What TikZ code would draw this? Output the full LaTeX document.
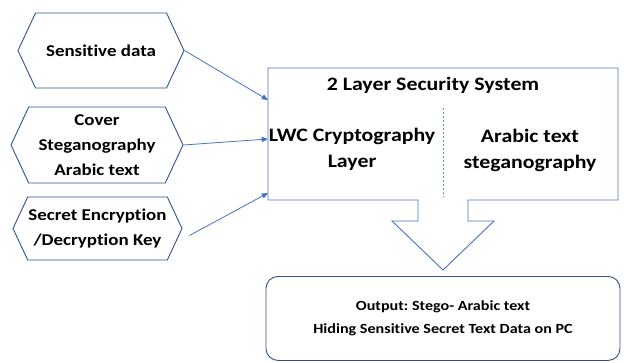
\documentclass[tikz,border=0pt]{standalone}
\usepackage{fontspec}
\setmainfont{Carlito}[Ligatures=NoCommon, FakeStretch=1.15]
\frenchspacing
\usetikzlibrary{shapes.symbols,arrows.meta,positioning}

\definecolor{edgeblue}{HTML}{2F528F}
\definecolor{lineblue}{HTML}{4472C4}
\definecolor{dashblue}{HTML}{5B9BD5}

\begin{document}
\begin{tikzpicture}[
  x=1pt, y=1pt,
  hexin/.style={signal, signal to=west and east, signal pointer angle=130, draw=edgeblue, line width=0.9pt, align=center, font=\bfseries\fontsize{16.5}{25}\selectfont, inner sep=0pt},
  sysbox/.style={minimum width=350pt, minimum height=132pt, inner sep=0pt, outer sep=0pt},
  layer/.style={draw=lineblue, line width=0.9pt, line join=miter},
  txt/.style={align=center, font=\bfseries\fontsize{19}{26}\selectfont},
  outbox/.style={draw=edgeblue, line width=0.9pt, rounded corners=12pt, minimum width=354pt, minimum height=84pt, align=center, font=\bfseries\fontsize{14}{23}\selectfont},
  arr/.style={-{Triangle[length=2.2mm, width=1.8mm]}, draw=lineblue, line width=0.8pt},
  divider/.style={dashed, draw=dashblue, line width=0.6pt, dash pattern=on 2pt off 2pt}
]
\useasboundingbox (0,0) rectangle (624,-362);

\node[hexin, minimum width=166pt, minimum height=75pt] (data) at (101,-50.5) {Sensitive data};
\node[hexin, minimum width=172pt, minimum height=76pt] (cover) at (97,-145) {Cover\\Steganography\\Arabic text};
\node[hexin, minimum width=169pt, minimum height=63pt] (key) at (97.5,-228.5) {Secret Encryption\\/Decryption Key};

\node[sysbox] (sys) at (443,-134) {};
\draw[layer] (sys.north west) -- (sys.north east) -- (sys.south east)
  -- ([xshift=25pt]sys.south) -- ++(0,-21) -- ++(26,0)
  -- ([yshift=-70pt]sys.south) -- ++(-51,49) -- ++(26,0)
  -- ([xshift=-25pt]sys.south) -- (sys.south west) -- cycle;
\node[txt] (title) at (433,-85) {2 Layer Security System};
\node[txt] (lwc) at (352,-149) {LWC Cryptography\\Layer};
\node[txt] (steg) at (530,-150) {Arabic text\\steganography};
\draw[divider] ([yshift=-40pt]sys.north) -- ([yshift=3pt]sys.south);

\node[outbox, below=76pt of sys.south] (out) {Output: Stego- Arabic text\\Hiding Sensitive Secret Text Data on PC};

\draw[arr] (data.east) -- ([yshift=34pt]sys.west);
\draw[arr] (cover.east) -- ([yshift=-5pt]sys.west);
\draw[arr] ([xshift=7pt,yshift=-7pt]key.east) -- ([yshift=-59pt]sys.west);
\end{tikzpicture}
\end{document}
